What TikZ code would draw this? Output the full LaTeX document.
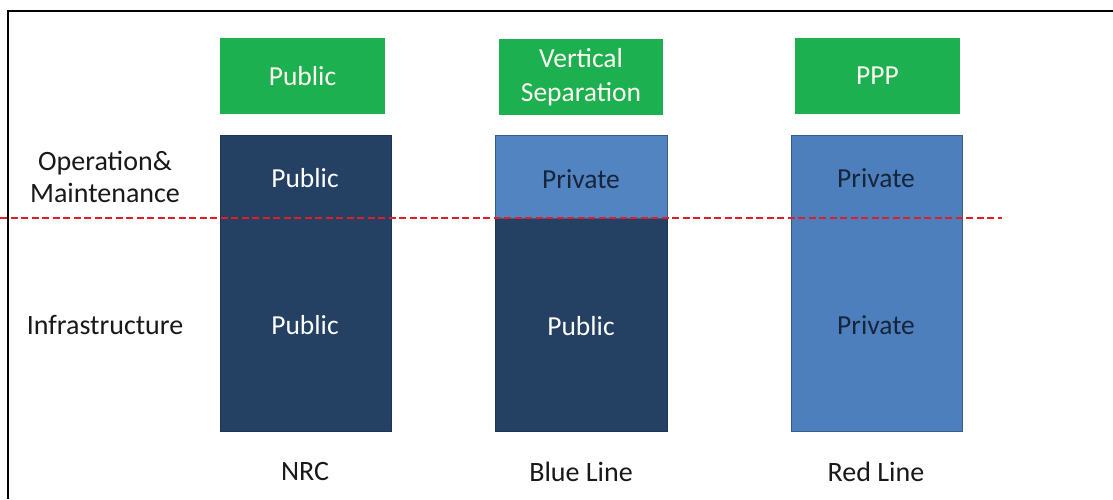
\documentclass[tikz,border=0pt]{standalone}
\usepackage{fontspec}
\setmainfont{Carlito}
\definecolor{grn}{RGB}{29,176,80}
\definecolor{navy}{RGB}{36,64,98}
\definecolor{navyedge}{RGB}{30,52,82}
\definecolor{lblue}{RGB}{82,132,194}
\definecolor{lblue2}{RGB}{76,127,188}
\definecolor{bedge}{RGB}{56,93,138}
\definecolor{dred}{RGB}{226,30,36}
\definecolor{darktxt}{RGB}{22,36,60}
\begin{document}
\begin{tikzpicture}[x=1pt,y=-1pt,
  lbl/.style={font=\fontsize{28}{32}\selectfont, text=black!90, align=center},
  greenbox/.style={fill=grn, draw=none, text=white!95!yellow, font=\fontsize{27.5}{34}\selectfont, align=center},
  darkbox/.style={fill=navy, draw=navyedge, line width=1pt},
  lightbox/.style={fill=lblue, draw=bedge, line width=1pt},
  redlinebox/.style={fill=lblue2, draw=bedge, line width=1pt},
  wtxt/.style={font=\fontsize{27.5}{32}\selectfont, text=white},
  dtxt/.style={font=\fontsize{27.5}{32}\selectfont, text=darktxt},
  sep/.style={draw=dred, line width=2.2pt, dash pattern=on 7pt off 3.5pt}
]
\useasboundingbox (0,0) rectangle (1113,499);
\fill[white] (0,0) rectangle (1113,499);
% frame (only left and top edges visible)
\coordinate (fbl) at (8,499);
\coordinate (ftl) at (8,11);
\coordinate (ftr) at (1113,11);
\draw[line width=2pt, black] (fbl) -- (ftl) -- (ftr);

% green header boxes
\node[greenbox, minimum width=165pt, minimum height=76pt] (g1) at (302.5,76) {Public};
\node[greenbox, minimum width=164pt, minimum height=76pt] (g2) at (581,77) {Vertical\\Separation};
\node[greenbox, minimum width=165pt, minimum height=76pt] (g3) at (877.5,76) {PPP};

% NRC column
\node[darkbox, minimum width=171pt, minimum height=296pt] (c1) at (305.5,283) {};
% Blue Line column
\node[darkbox, minimum width=172pt, minimum height=213pt] (c2b) at (581,324.5) {};
\node[lightbox, minimum width=172pt, minimum height=83pt] (c2t) at (581,176.5) {};
% Red Line column
\node[redlinebox, minimum width=171pt, minimum height=296pt] (c3) at (876.5,283) {};

% texts inside boxes
\node[wtxt] (t1a) at (305,178) {Public};
\node[wtxt] (t1b) at (305,325) {Public};
\node[dtxt] (t2a) at (581,179) {Private};
\node[wtxt] (t2b) at (581,326) {Public};
\node[dtxt] (t3a) at (876,178) {Private};
\node[dtxt] (t3b) at (876,325) {Private};

% row labels
\node[lbl] (om) at (105,177) {Operation\&\\Maintenance};
\node[lbl] (inf) at (105,325) {Infrastructure};

% column labels
\node[lbl] (nrc) at (305,472) {NRC};
\node[lbl] (bl) at (581,472) {Blue Line};
\node[lbl] (rl) at (876,472) {Red Line};

% dashed separator
\coordinate (dl) at (0,218);
\coordinate (dr) at (1002,218);
\draw[sep] (dl) -- (dr);
\end{tikzpicture}
\end{document}
